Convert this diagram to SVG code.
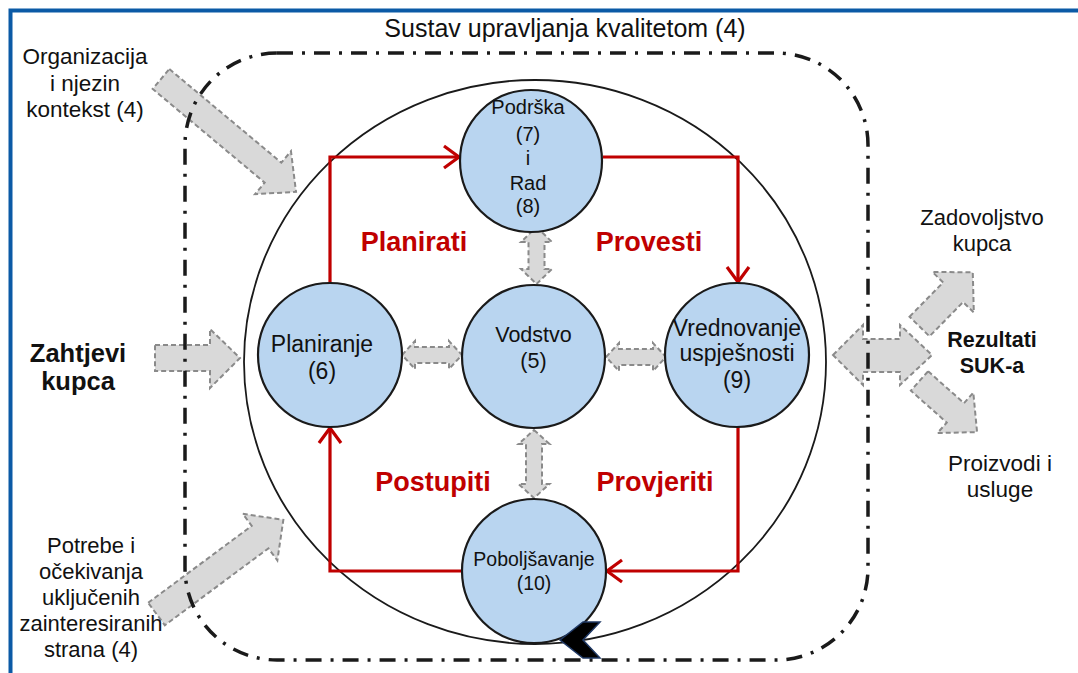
<svg xmlns="http://www.w3.org/2000/svg" width="1078" height="673" viewBox="0 0 1078 673">
<defs>
<style>
.t{font-family:"Liberation Sans",Arial,sans-serif;fill:#111;text-anchor:middle}
.node{fill:#b9d5f0;stroke:#1a1a1a;stroke-width:2.2}
.ga{fill:#d9d9d9;stroke:#8a8a8a;stroke-width:2;stroke-dasharray:5 3;stroke-linejoin:miter}
.red{fill:none;stroke:#c00000;stroke-width:3.2}
.rl{font-family:"Liberation Sans",Arial,sans-serif;font-weight:bold;fill:#c00000;text-anchor:middle;font-size:27px}
</style>
</defs>
<rect width="1078" height="673" fill="#fff"/>
<path d="M10.5,673 V10.5 H1078" fill="none" stroke="#0b5aa6" stroke-width="4"/>
<text class="t" x="565" y="37" font-size="25">Sustav upravljanja kvalitetom (4)</text>

<g id="outer-arrows">
<polygon class="ga" points="0,-13 146,-13 146,-28 176,0 146,28 146,13 0,13" transform="translate(161,79) rotate(39.9)"/>
<polygon class="ga" points="0,-14 129,-14 129,-29 158,0 129,29 129,14 0,14" transform="translate(156.5,614) rotate(-36.6)"/>
<polygon class="ga" points="155,345 210,345 210,329 240,358 210,388 210,371 155,371"/>
<polygon class="ga" points="833,355 863,325 863,339 900,339 900,325 932,355 900,385 900,372 863,372 863,385"/>
<polygon class="ga" points="0,-14 48,-14 48,-29 76,0 48,29 48,14 0,14" transform="translate(919.5,326.5) rotate(-45.5)"/>
<polygon class="ga" points="0,-13 48,-13 48,-27 77,0 48,27 48,13 0,13" transform="translate(919.5,381) rotate(41.6)"/>
</g>

<rect x="185" y="53" width="683" height="607" rx="92" ry="92" fill="none" stroke="#1a1a1a" stroke-width="3.5" stroke-dasharray="16 9 3 9"/>
<ellipse cx="535" cy="362" rx="291" ry="282" fill="none" stroke="#1a1a1a" stroke-width="1.8"/>

<g id="connectors">
<path class="red" d="M330,283 V157 H458"/>
<path class="red" d="M444,146 L459,157 L444,168"/>
<path class="red" d="M603,157 H738 V281"/>
<path class="red" d="M727,267 L738,282 L749,267"/>
<path class="red" d="M738,427 V571 H608"/>
<path class="red" d="M622,560 L607,571 L622,582"/>
<path class="red" d="M463,571 H330 V429"/>
<path class="red" d="M319,443 L330,428 L341,443"/>
<polygon class="ga" points="536.5,227 552,242 544.5,242 544.5,269 552,269 536.5,284 521,269 528.5,269 528.5,242 521,242"/>
<polygon class="ga" points="534,430 549.5,444 542,444 542,484 549.5,484 534,498 518.5,484 526,484 526,444 518.5,444"/>
<polygon class="ga" points="402,355 415,341 415,347 449,347 449,341 462,355 449,369 449,363 415,363 415,369"/>
<polygon class="ga" points="606,357 619,343 619,349 653,349 653,343 666,357 653,371 653,365 619,365 619,371"/>
</g>

<g id="node-podrska">
<circle class="node" cx="531" cy="161" r="71"/>
<text class="t" font-size="20"><tspan x="528" y="114">Podrška</tspan><tspan x="528" y="141">(7)</tspan><tspan x="528" y="165">i</tspan><tspan x="528" y="190">Rad</tspan><tspan x="528" y="213">(8)</tspan></text>
</g>
<g id="node-vodstvo">
<circle class="node" cx="533.5" cy="356.5" r="71.5"/>
<text class="t" font-size="21.5"><tspan x="533.5" y="342">Vodstvo</tspan><tspan x="533.5" y="368">(5)</tspan></text>
</g>
<g id="node-planiranje">
<circle class="node" cx="330" cy="355" r="72"/>
<text class="t" font-size="23"><tspan x="322" y="352">Planiranje</tspan><tspan x="322" y="379">(6)</tspan></text>
</g>
<g id="node-vrednovanje">
<circle class="node" cx="737" cy="355" r="72"/>
<text class="t" font-size="23"><tspan x="737" y="336">Vrednovanje</tspan><tspan x="737" y="361">uspješnosti</tspan><tspan x="737" y="388">(9)</tspan></text>
</g>
<g id="node-poboljsavanje">
<circle class="node" cx="534" cy="571" r="72"/>
<text class="t" font-size="19.5"><tspan x="534" y="566">Poboljšavanje</tspan><tspan x="534" y="590">(10)</tspan></text>
</g>

<polygon points="560,640 583,622 600,622 583,640 600,658 583,658" fill="#000" stroke="#1f3864" stroke-width="1.5"/>

<g id="labels">
<text class="rl" x="414" y="251">Planirati</text>
<text class="rl" x="649" y="251">Provesti</text>
<text class="rl" x="433" y="491">Postupiti</text>
<text class="rl" x="655" y="491">Provjeriti</text>
<text class="t" font-size="22.5"><tspan x="85" y="64">Organizacija</tspan><tspan x="85" y="91">i njezin</tspan><tspan x="85" y="117">kontekst (4)</tspan></text>
<text class="t" font-size="25.5" font-weight="bold"><tspan x="78" y="362">Zahtjevi</tspan><tspan x="78" y="390">kupca</tspan></text>
<text class="t" font-size="22"><tspan x="91" y="553">Potrebe i</tspan><tspan x="91" y="579">očekivanja</tspan><tspan x="91" y="605">uključenih</tspan><tspan x="91" y="631">zainteresiranih</tspan><tspan x="91" y="657">strana (4)</tspan></text>
<text class="t" font-size="22"><tspan x="982" y="225">Zadovoljstvo</tspan><tspan x="982" y="251">kupca</tspan></text>
<text class="t" font-size="21.5" font-weight="bold"><tspan x="992" y="347">Rezultati</tspan><tspan x="992" y="373">SUK-a</tspan></text>
<text class="t" font-size="22.5"><tspan x="1000" y="471">Proizvodi i</tspan><tspan x="1000" y="497">usluge</tspan></text>
</g>
</svg>
